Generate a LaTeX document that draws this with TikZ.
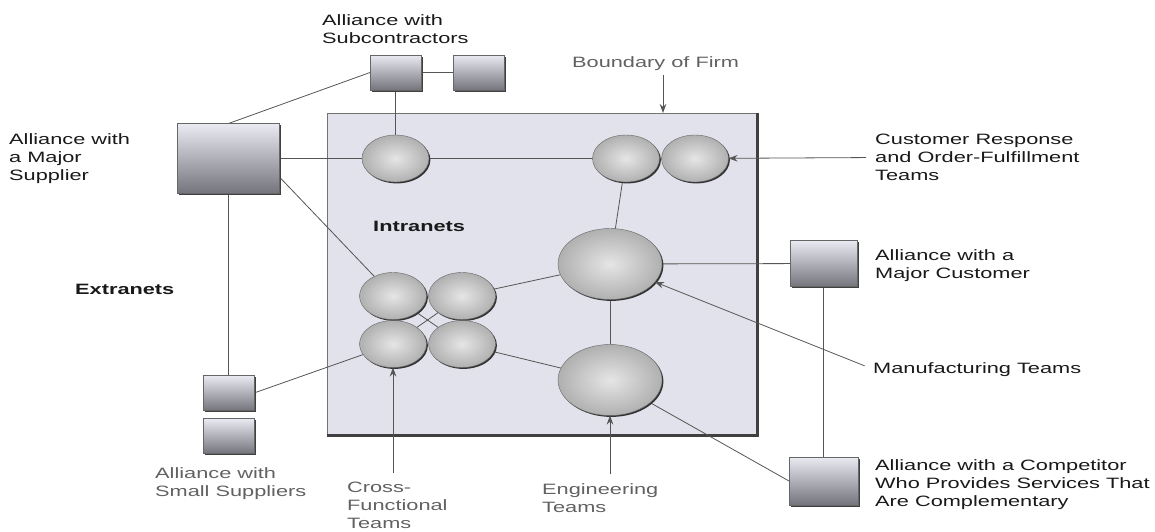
\documentclass[tikz,border=0pt]{standalone}
\usepackage{fontspec}
\setmainfont{Liberation Sans}[FakeStretch=1.45]
\usetikzlibrary{shapes,shapes.geometric,arrows,arrows.meta,calc,positioning,shadows}
\pgfdeclarelayer{back}
\pgfdeclarelayer{wires}
\pgfsetlayers{back,wires,main}
\definecolor{firm}{RGB}{226,226,236}
\definecolor{boxtop}{RGB}{234,234,242}
\definecolor{boxbot}{RGB}{116,116,124}
\definecolor{wirecol}{RGB}{85,85,85}

\begin{document}
\begin{tikzpicture}[x=1pt,y=-1pt,>={Stealth[length=9pt,width=6.5pt]},
  font=\fontsize{15}{18}\selectfont,
  ally/.style={rectangle,draw=black!60,top color=boxtop,bottom color=boxbot,
    minimum width=51pt,minimum height=35pt,inner sep=0pt,outer sep=0pt,
    drop shadow={shadow xshift=1.6pt,shadow yshift=-1.6pt,fill=black!75,opacity=1}},
  team/.style={ellipse,draw=black!60,inner color=gray!20,outer color=gray!62,
    minimum width=67pt,minimum height=47pt,inner sep=0pt,outer sep=0pt,
    drop shadow={shadow xshift=1.4pt,shadow yshift=-1.4pt,fill=black!80,opacity=1}},
  bigteam/.style={team,minimum width=104pt,minimum height=71pt},
  lbl/.style={anchor=north west,align=left,inner sep=0pt,text=black!90},
  dimlbl/.style={lbl,text=black!62},
  tag/.style={lbl,font=\fontsize{15}{18}\selectfont\bfseries},
  wire/.style={draw=wirecol,line width=0.8pt},
  pointer/.style={wire,->,shorten <=9pt}]

  \useasboundingbox (0,0) rectangle (1155,531);

  % boundary of the firm
  \begin{pgfonlayer}{back}
    \node [draw=black!55,fill=firm,line width=1pt,minimum width=430pt,
           minimum height=322pt,inner sep=0pt] (firm) at (542,274) {};
    \draw [black!75,line width=2.4pt] (firm.north east) -- (firm.south east) -- (firm.south west);
  \end{pgfonlayer}

  \node [ally,minimum width=102pt,minimum height=70pt] (sup) at (228.5,158.5) {};
  \node [ally]                     (sub1) at (395.5,72.5) {};
  \node [ally] [right=32pt of sub1] (sub2) {};
  \node [ally]                     (ss1) at (228.5,393) {};
  \node [ally] [below=8pt of ss1]  (ss2) {};
  \node [ally,minimum width=67pt,minimum height=46pt] (cust) at (823.5,263.5) {};
  \node [ally,minimum width=69pt,minimum height=48pt] (comp) at (823.5,481) {};

  \node [team]                     (topc) at (395.5,158.5) {};
  \node [team]                     (cr1) at (626,158.5) {};
  \node [team] [right=2pt of cr1]  (cr2) {};
  \node [bigteam]                  (mfg) at (610,264) {};
  \node [bigteam]                  (eng) at (610,380) {};
  \node [team]                     (xtl) at (393,296) {};
  \node [team] [right=2pt of xtl]  (xtr) {};
  \node [team] [below=1pt of xtl]  (xbl) {};
  \node [team] [below=1pt of xtr]  (xbr) {};

  \node [lbl]    (sublbl)  at (322,14)  {Alliance with\\Subcontractors};
  \node [dimlbl] (bndlbl)  at (572,56)  {Boundary of Firm};
  \node [lbl]    (suplbl)  at (9,133)   {Alliance with\\a Major\\Supplier};
  \node [lbl]    (crlbl)   at (875,134) {Customer Response\\and Order-Fulfillment\\Teams};
  \node [tag]    (intra)   at (373,221) {Intranets};
  \node [tag]    (extra)   at (75,284)  {Extranets};
  \node [lbl]    (custlbl) at (875,249) {Alliance with a\\Major Customer};
  \node [lbl]    (mfglbl)  at (873,362) {Manufacturing Teams};
  \node [lbl]    (complbl) at (875,459) {Alliance with a Competitor\\Who Provides Services That\\Are Complementary};
  \node [dimlbl] (sslbl)   at (155,467) {Alliance with\\Small Suppliers};
  \node [dimlbl] (xftlbl)  at (347,482) {Cross-\\Functional\\Teams};
  \node [dimlbl] (englbl)  at (542,483) {Engineering\\Teams};

  \coordinate (bndtip) at (663,113);

  \begin{pgfonlayer}{wires}
    \path (sub1) edge[wire] (sub2)
                 edge[wire] (topc)
          (sub1.west) edge[wire] (sup.north)
          (sup)  edge[wire] (topc)
                 edge[wire] (ss1)
          (topc) edge[wire] (cr1)
          (sup.-20) edge[wire] (xtl)
          (ss1.east) edge[wire] (xbl)
          (xtl)  edge[wire] (xbr)
          (xtr)  edge[wire] (xbl)
                 edge[wire] (mfg)
          (xbr)  edge[wire] (eng)
          (cr1)  edge[wire] (mfg)
          (mfg)  edge[wire] (eng)
                 edge[wire] (cust)
          (cust) edge[wire] (comp)
          (eng)  edge[wire] (comp.west);
  \end{pgfonlayer}

  \path (crlbl.west)  edge[pointer] (cr2)
        (mfglbl.west) edge[pointer] (mfg)
        (xbl |- xftlbl.north) edge[pointer] (xbl)
        (eng |- englbl.north) edge[pointer] (eng);
  \draw[wire,->] (bndtip |- bndlbl.south) ++(0,5) -- (bndtip);
\end{tikzpicture}
\end{document}
